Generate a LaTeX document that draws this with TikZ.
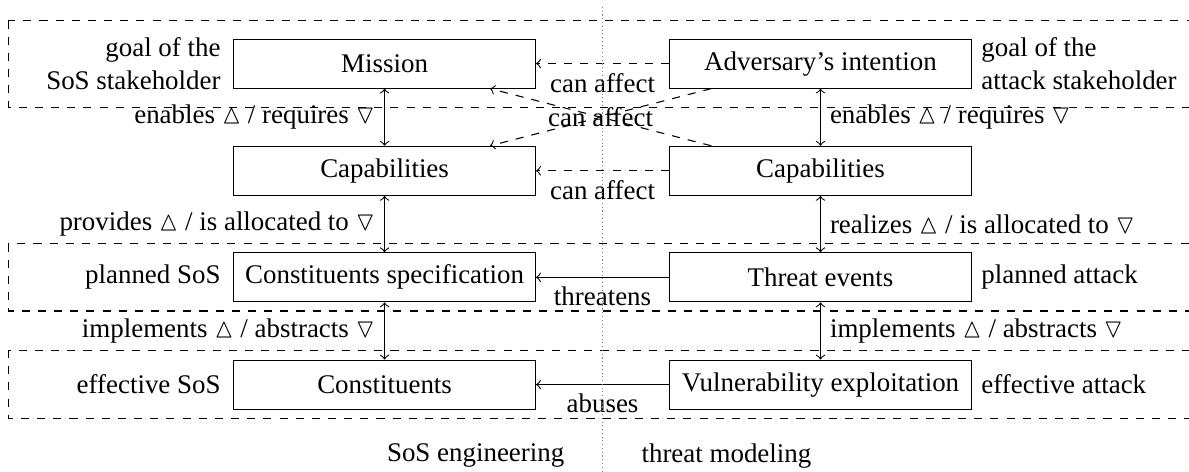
\documentclass[tikz,border=0pt]{standalone}
\usepackage{fontspec}
\setmainfont{Liberation Serif}
\usepackage{amssymb}
\usepackage{tikz}
\usetikzlibrary{positioning}
\usetikzlibrary{arrows}

\newcommand{\upT}{$\vartriangle$}
\newcommand{\downT}{$\triangledown$}

\begin{document}
\begin{tikzpicture}[
    box/.style={draw,minimum width=3.94cm,minimum height=0.64cm},
    band/.style={dashed},
    rel/.style={<->},
    affect/.style={->,dashed}
  ]
      \useasboundingbox (0,0) rectangle (15.52,-6.16);

      % layers
      \draw[band] (0.11,-0.27) rectangle (16,-1.40);
      \draw[band] (0.11,-3.18) rectangle (16,-4.06);
      \draw[band] (0.11,-4.57) rectangle (16,-5.46);

      % SoS engineering
      \node[box] (mission) at (5.02,-0.83) {Mission};
      \node[box] (capsL) at (5.02,-2.23) {Capabilities};
      \node[box] (spec) at (5.02,-3.62) {Constituents specification};
      \node[box] (const) at (5.02,-5.02) {Constituents};
      \node[left=0.4mm of mission,align=right] (goalL) {goal of the\\SoS stakeholder};
      \node[left=0.4mm of spec] (plannedL) {planned SoS};
      \node[left=0.4mm of const] (effectiveL) {effective SoS};

      % threat modeling
      \node[box] (intent) at (10.71,-0.83) {Adversary's intention};
      \node[box] (capsR) at (10.71,-2.23) {Capabilities};
      \node[box] (threat) at (10.71,-3.62) {Threat events};
      \node[box] (exploit) at (10.71,-5.02) {Vulnerability exploitation};
      \node[right=0mm of intent,align=left] (goalR) {goal of the\\attack stakeholder};
      \node[right=0mm of threat] (plannedR) {planned attack};
      \node[right=0mm of exploit] (effectiveR) {effective attack};

      \draw[rel] (mission) -- node[left] {enables \upT{} / requires \downT} (capsL);
      \draw[rel] (capsL) -- node[left] {provides \upT{} / is allocated to \downT} (spec);
      \draw[rel] (spec) -- node[left] {implements \upT{} / abstracts \downT} (const);
      \draw[rel] (intent) -- node[right] {enables \upT{} / requires \downT} (capsR);
      \draw[rel] (capsR) -- node[right] {realizes \upT{} / is allocated to \downT} (threat);
      \draw[rel] (threat) -- node[right] {implements \upT{} / abstracts \downT} (exploit);

      \draw[affect] (intent) -- node[below] {can affect} (mission);
      \draw[affect] (capsR) -- node[below] {can affect} (capsL);
      \draw[affect] ([xshift=0.55cm]intent.south west) -- node {can affect} ([xshift=-0.6cm]capsL.north east);
      \draw[affect] ([xshift=0.55cm]capsR.north west) -- ([xshift=-0.6cm]mission.south east);
      \draw[->] (threat) -- node[below] {threatens} (spec);
      \draw[->] (exploit) -- node[below] {abuses} (const);

      % split
      \coordinate (top) at (7.87,-0.09);
      \coordinate (split) at (7.87,-5.95);
      \coordinate (bottom) at (7.87,-6.16);
      \draw[densely dotted,gray] (top) -- (bottom);
      \node[left=0.38cm of split] (sos) {SoS engineering};
      \node[right=0.38cm of split] (tm) {threat modeling};
     \end{tikzpicture}
\end{document}
